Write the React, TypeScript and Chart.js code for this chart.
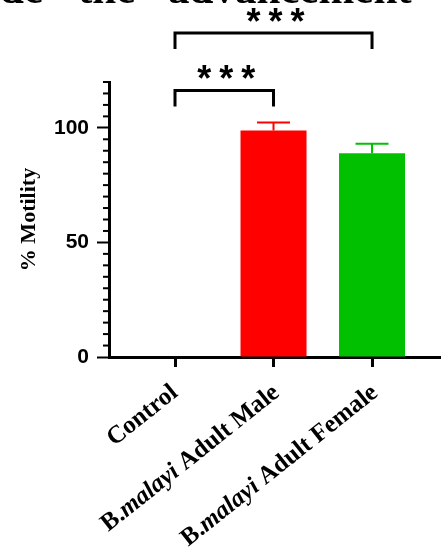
import { useEffect, useRef } from "react";
import Chart from "chart.js/auto";

const categories = ["Control", "B.malayi Adult Male", "B.malayi Adult Female"];
const motility = [0, 98.8, 88.9];
const motilityErr = [0, 3.5, 4.2];
const barColors = ["#000000", "#ff0000", "#00c000"];
const yMajorTicks = [0, 50, 100];
const yMinorStep = 5;
const yMax = 120;
const italicWord = "malayi";

// significance brackets: from category, to category, label
const compFrom = [0, 0];
const compTo = [1, 2];
const compLabels = ["***", "***"];

// text cropped off at the top of the figure
const topWords = ["de", "the", "advancement"];

function splitLabel(label: string) {
  return label
    .split(new RegExp(`(${italicWord})`))
    .filter((t) => t.length > 0)
    .map((t) => ({ text: t, italic: t === italicWord }));
}

const overlay = {
  id: "overlay",
  beforeDraw(chart: any) {
    // bottoms of the caption text that the figure was cropped from
    const ctx = chart.ctx;
    const wordLeft = [0, 78, 168];
    ctx.save();
    ctx.fillStyle = "#000";
    ctx.font = "bold 43px 'Liberation Serif'";
    ctx.textAlign = "left";
    ctx.textBaseline = "alphabetic";
    topWords.forEach((w, i) => {
      ctx.fillText(w, wordLeft[i], 3);
    });
    ctx.restore();
  },
  afterDatasetsDraw(chart: any) {
    const ctx = chart.ctx;
    const y = chart.scales.y;
    const meta = chart.getDatasetMeta(0);
    ctx.save();
    meta.data.forEach((bar: any, i: number) => {
      if (!motilityErr[i]) return;
      const top = y.getPixelForValue(motility[i] + motilityErr[i]);
      const half = bar.width / 4;
      ctx.strokeStyle = barColors[i];
      ctx.lineWidth = 2;
      ctx.beginPath();
      ctx.moveTo(bar.x, bar.y);
      ctx.lineTo(bar.x, top);
      ctx.moveTo(bar.x - half, top);
      ctx.lineTo(bar.x + half, top);
      ctx.stroke();
    });
    ctx.restore();
  },
  afterDraw(chart: any) {
    const ctx = chart.ctx;
    const x = chart.scales.x;
    const y = chart.scales.y;
    const area = chart.chartArea;
    ctx.save();

    // minor ticks on the y axis
    ctx.strokeStyle = "#000";
    ctx.lineWidth = 2;
    for (let v = 0; v <= yMax; v += yMinorStep) {
      if (yMajorTicks.includes(v)) continue;
      const py = y.getPixelForValue(v);
      ctx.beginPath();
      ctx.moveTo(area.left - 6, py);
      ctx.lineTo(area.left, py);
      ctx.stroke();
    }

    // significance brackets
    const bracketLevels = [116.3, 141.4];
    ctx.lineWidth = 3;
    ctx.fillStyle = "#000";
    ctx.font = "bold 36px 'Liberation Sans'";
    ctx.textAlign = "center";
    ctx.textBaseline = "alphabetic";
    compFrom.forEach((from, k) => {
      const x1 = x.getPixelForValue(from);
      const x2 = x.getPixelForValue(compTo[k]);
      const py = y.getPixelForValue(bracketLevels[k]);
      ctx.beginPath();
      ctx.moveTo(x1, py + 16);
      ctx.lineTo(x1, py);
      ctx.lineTo(x2, py);
      ctx.lineTo(x2, py + 16);
      ctx.stroke();
      const cx = (x1 + x2) / 2 + 2;
      const stars = compLabels[k].split("");
      stars.forEach((s, j) => {
        ctx.fillText(s, cx + (j - (stars.length - 1) / 2) * 22, py + 1);
      });
    });

    // rotated category labels
    const angle = (38.5 * Math.PI) / 180;
    const regular = "bold 25px 'Liberation Serif'";
    const italic = "italic bold 25px 'Liberation Serif'";
    ctx.textAlign = "left";
    categories.forEach((label, i) => {
      const parts = splitLabel(label);
      let total = 0;
      parts.forEach((p) => {
        ctx.font = p.italic ? italic : regular;
        total += ctx.measureText(p.text).width;
      });
      ctx.save();
      ctx.translate(x.getPixelForValue(i) + (i === 0 ? 4 : 7), area.bottom + 38);
      ctx.rotate(-angle);
      let cx = -total;
      parts.forEach((p) => {
        ctx.font = p.italic ? italic : regular;
        ctx.fillText(p.text, cx, 0);
        cx += ctx.measureText(p.text).width;
      });
      ctx.restore();
    });

    ctx.restore();
  },
};

function MotilityChart() {
  const chartRef = useRef<HTMLCanvasElement | null>(null);
  const chartInstanceRef = useRef<Chart | null>(null);

  useEffect(() => {
    if (!chartRef.current) return;
    const ctx = chartRef.current.getContext("2d");
    if (!ctx) return;

    if (chartInstanceRef.current) {
      chartInstanceRef.current.destroy();
    }

    chartInstanceRef.current = new Chart(ctx, {
      type: "bar",
      data: {
        datasets: [
          {
            data: categories.map((_, i) => ({ x: i, y: motility[i] })),
            backgroundColor: barColors,
            borderWidth: 0,
            barPercentage: 0.67,
            categoryPercentage: 1,
          },
        ],
      },
      options: {
        animation: false,
        responsive: false,
        layout: { padding: { top: 82, right: 8, left: 0, bottom: 0 } },
        plugins: {
          legend: { display: false },
          tooltip: { enabled: false },
        },
        scales: {
          x: {
            type: "linear",
            min: -0.67,
            max: 2.69,
            offset: false,
            afterBuildTicks: (s: any) => {
              s.ticks = categories.map((_, i) => ({ value: i }));
            },
            afterFit: (s: any) => {
              s.height = 195;
            },
            ticks: { display: false },
            grid: {
              offset: false,
              drawOnChartArea: false,
              tickLength: 10,
              tickWidth: 3,
              tickColor: "#000",
            },
            border: { color: "#000", width: 3 },
          },
          y: {
            min: 0,
            max: yMax,
            afterBuildTicks: (s: any) => {
              s.ticks = yMajorTicks.map((v) => ({ value: v }));
            },
            afterFit: (s: any) => {
              s.width = 109;
            },
            ticks: {
              color: "#000",
              padding: 8,
              font: { family: "'Liberation Sans'", weight: "bold", size: 21 },
            },
            grid: {
              drawOnChartArea: false,
              tickLength: 12,
              tickWidth: 2,
              tickColor: "#000",
            },
            border: { color: "#000", width: 3 },
            title: {
              display: true,
              text: "% Motility",
              color: "#000",
              padding: { top: 16, bottom: 0 },
              font: { family: "'Liberation Serif'", weight: "bold", size: 22 },
            },
          },
        },
      } as any,
      plugins: [overlay],
    });

    return () => {
      chartInstanceRef.current?.destroy();
      chartInstanceRef.current = null;
    };
  }, []);

  return (
    <div
      style={{
        position: "absolute",
        left: 0,
        top: 0,
        width: 448,
        height: 552,
        background: "#fff",
      }}
    >
      <canvas
        ref={chartRef}
        width={448}
        height={552}
        style={{ display: "block", width: 448, height: 552 }}
      />
    </div>
  );
}

export default function App() {
  return <MotilityChart />;
}
